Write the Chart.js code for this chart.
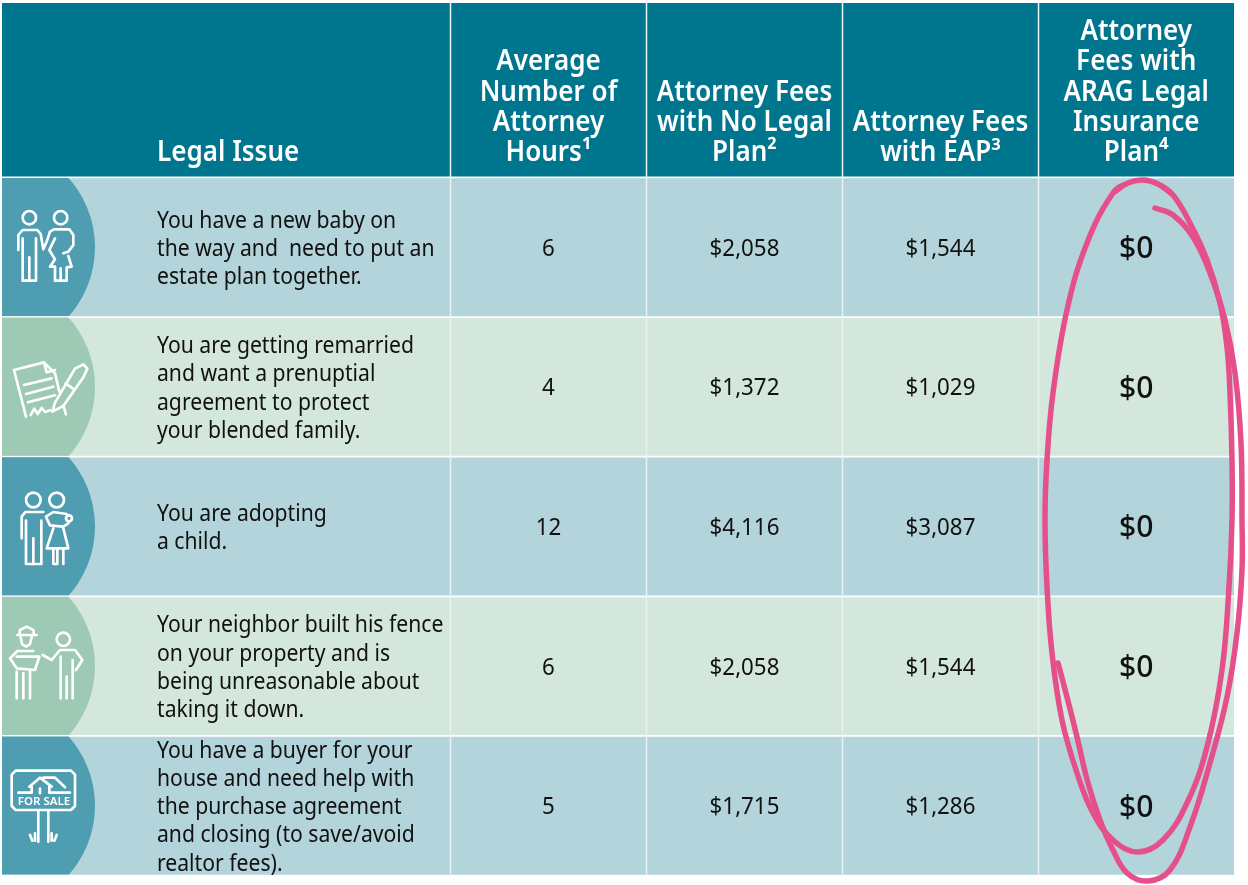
<!DOCTYPE html>
<html lang="en">
<head>
<meta charset="utf-8">
<title>Legal issue fees</title>
<script src="https://cdn.jsdelivr.net/npm/chart.js@4/dist/chart.umd.min.js"></script>
<style>
  html, body { margin: 0; background: #ffffff; }
  #wrap { width: 1248px; height: 885px; position: relative; }
</style>
</head>
<body>
<div id="wrap"><canvas id="feesChart"></canvas></div>
<script>
const headerIssue = "Legal Issue";
const headerColumns = [
  ["Average", "Number of", "Attorney", "Hours\u00B9"],
  ["Attorney Fees", "with No Legal", "Plan\u00B2"],
  ["Attorney Fees", "with EAP\u00B3"],
  ["Attorney", "Fees with", "ARAG Legal", "Insurance", "Plan\u2074"]
];
const legalIssues = [
  ["You have a new baby on", "the way and  need to put an", "estate plan together."],
  ["You are getting remarried", "and want a prenuptial", "agreement to protect", "your blended family."],
  ["You are adopting", "a child."],
  ["Your neighbor built his fence", "on your property and is", "being unreasonable about", "taking it down."],
  ["You have a buyer for your", "house and need help with", "the purchase agreement", "and closing (to save/avoid", "realtor fees)."]
];
const attorneyHours = [6, 4, 12, 6, 5];
const feesNoPlan = [2058, 1372, 4116, 2058, 1715];
const feesEap = [1544, 1029, 3087, 1544, 1286];
const feesArag = [0, 0, 0, 0, 0];

// pen strokes of the circled column
const loopX = [1113, 1128, 1143, 1158, 1173, 1190, 1207, 1220, 1227, 1230, 1232, 1232, 1229, 1222, 1207, 1187, 1163, 1138, 1113, 1093, 1077, 1062, 1052, 1047, 1045, 1047, 1053, 1067, 1087, 1113, 1128, 1143, 1158, 1173];
const loopY = [193, 183, 180, 184, 195, 223, 260, 303, 347, 393, 460, 520, 587, 670, 747, 803, 840, 852, 840, 813, 773, 720, 653, 587, 520, 460, 393, 310, 243, 193, 183, 180, 184, 195];
const tailX = [1058, 1067, 1077, 1088, 1100, 1112, 1127, 1148, 1170, 1190, 1210, 1227, 1237, 1242, 1242, 1241, 1235, 1225, 1210, 1193, 1173, 1155];
const tailY = [663, 697, 737, 783, 820, 848, 873, 881, 870, 827, 763, 697, 633, 570, 520, 443, 373, 320, 273, 237, 215, 208];

const COLORS = {
  header: "#00768e",
  rowBlue: "#b3d4db",
  rowGreen: "#d4e7dd",
  tabBlue: "#4f9db1",
  tabGreen: "#9ec9b4",
  line: "#e8f2f3",
  ink: "#e54f8a",
  text: "#111111"
};

const TABLE = { left: 2, right: 1234, headerTop: 3, headerBottom: 176.5, top: 177.5, bottom: 875.5 };
const COLUMN_EDGES = [2, 450.5, 646.5, 842.5, 1038.5, 1234];
const BODY_FONT = "23px 'Noto Sans'";
const HEADER_FONT = "600 28px 'Noto Sans'";
const HEADER_SQUEEZE = 0.93;
const BODY_SQUEEZE = 0.92;
const VALUE_SQUEEZE = 0.97;

const formatMoney = (value) => "$" + new Intl.NumberFormat("en-US").format(value);

function columnCenter(scale, index) {
  return (scale.getPixelForValue(COLUMN_EDGES[index]) + scale.getPixelForValue(COLUMN_EDGES[index + 1])) / 2;
}

function drawText(ctx, text, x, y, squeeze, align) {
  const width = ctx.measureText(text).width;
  const startX = align === "center" ? x - (width * squeeze) / 2 : x;
  ctx.save();
  ctx.translate(startX, y);
  ctx.scale(squeeze, 1);
  ctx.textAlign = "left";
  ctx.fillText(text, 0, 0);
  ctx.restore();
}

function strokePaths(ctx, originX, originY, paths, circles) {
  ctx.save();
  ctx.translate(originX, originY);
  ctx.scale(1 / 3, 1 / 3);
  ctx.strokeStyle = "#ffffff";
  ctx.lineWidth = 8;
  ctx.lineCap = "round";
  ctx.lineJoin = "round";
  paths.forEach((path) => {
    ctx.beginPath();
    for (let i = 0; i < path.length; i += 2) {
      if (i === 0) {
        ctx.moveTo(path[0], path[1]);
      } else {
        ctx.lineTo(path[i], path[i + 1]);
      }
    }
    ctx.stroke();
  });
  (circles || []).forEach((c) => {
    ctx.beginPath();
    ctx.arc(c[0], c[1], c[2], 0, Math.PI * 2);
    ctx.stroke();
  });
  ctx.restore();
}

// icons are traced in a 3x grid, the origin is the crop corner
function drawIcons(ctx) {
  strokePaths(ctx, 0, 170, [
    [55, 240, 55, 195, 68, 180, 112, 180, 122, 192, 130, 238, 140, 215, 150, 185, 162, 178, 208, 178, 220, 195, 220, 225, 205, 245, 190, 250],
    [68, 205, 68, 332, 88, 332, 88, 262],
    [88, 332, 108, 332, 108, 205],
    [165, 205, 148, 240, 165, 268, 150, 290, 165, 290, 165, 332, 182, 332, 182, 295],
    [182, 332, 200, 332, 200, 292, 215, 290, 205, 258]
  ], [[88, 143, 20], [182, 143, 20]]);

  strokePaths(ctx, 0, 170, [
    [78, 740, 42, 600, 132, 577, 165, 610, 178, 665],
    [132, 577, 140, 607, 165, 600],
    [72, 645, 155, 625],
    [78, 672, 160, 650],
    [84, 697, 165, 676],
    [92, 735, 103, 716, 113, 732, 125, 714, 135, 726, 150, 721],
    [157, 725, 165, 698, 225, 596, 250, 583, 262, 596, 250, 622, 190, 708, 157, 725],
    [197, 640, 218, 655],
    [190, 706, 198, 733]
  ]);

  strokePaths(ctx, 0, 450, [
    [65, 265, 65, 200, 76, 186, 130, 186],
    [78, 212, 78, 342, 100, 342, 100, 265],
    [100, 342, 124, 342, 124, 212],
    [138, 200, 160, 186, 200, 192],
    [140, 205, 150, 226, 190, 230, 205, 220],
    [160, 235, 140, 295, 205, 295, 190, 235],
    [160, 295, 160, 342, 172, 342, 172, 298],
    [190, 295, 190, 342]
  ], [[100, 150, 22], [170, 150, 22], [207, 205, 9]]);

  strokePaths(ctx, 0, 450, [
    [52, 555, 110, 555],
    [58, 555, 60, 540, 80, 530, 100, 540, 102, 555],
    [62, 562, 66, 582, 78, 590, 90, 582, 95, 562],
    [100, 603, 52, 603, 30, 625, 50, 655, 105, 660, 118, 620, 50, 620],
    [50, 665, 50, 745],
    [70, 670, 70, 745],
    [90, 665, 90, 745],
    [128, 615, 155, 630, 180, 600, 225, 600, 247, 630, 228, 660],
    [182, 620, 182, 745],
    [200, 680, 200, 745],
    [218, 630, 218, 745]
  ], [[190, 568, 20]]);

  strokePaths(ctx, 0, 450, [
    [47, 962, 213, 962, 225, 974, 225, 1068, 213, 1080, 47, 1080, 35, 1068, 35, 974, 47, 962],
    [88, 1010, 120, 983, 155, 1010],
    [130, 983, 165, 983, 195, 1012],
    [55, 1028, 95, 1028, 95, 1010],
    [148, 1010, 148, 1028, 210, 1028],
    [120, 1016, 120, 1030],
    [115, 1082, 115, 1175],
    [145, 1082, 145, 1175],
    [90, 1155, 97, 1172],
    [105, 1150, 105, 1172],
    [155, 1150, 155, 1172],
    [170, 1155, 163, 1172]
  ]);

  ctx.fillStyle = "#ffffff";
  ctx.font = "600 11.5px 'Noto Sans'";
  ctx.textBaseline = "middle";
  drawText(ctx, "FOR SALE", 44, 802, 1, "center");
}

const tablePlugin = {
  id: "tablePlugin",
  afterDatasetDraw(chart, args) {
    if (args.index !== 0) {
      return;
    }
    const { ctx, scales } = chart;
    const x = scales.x;
    const y = scales.y;
    const area = chart.chartArea;
    const step = y.getPixelForValue(1) - y.getPixelForValue(0);

    ctx.save();

    // header band sits above the rows
    ctx.fillStyle = COLORS.header;
    ctx.fillRect(area.left, TABLE.headerTop, area.right - area.left, TABLE.headerBottom - TABLE.headerTop);

    // half moon tabs behind the icons
    legalIssues.forEach((issue, i) => {
      const center = y.getPixelForValue(i);
      ctx.save();
      ctx.beginPath();
      ctx.rect(area.left, center - step / 2 + 0.5, 120, step - 1.5);
      ctx.clip();
      ctx.fillStyle = i % 2 === 0 ? COLORS.tabBlue : COLORS.tabGreen;
      ctx.beginPath();
      ctx.arc(-9, center, 104, 0, Math.PI * 2);
      ctx.fill();
      ctx.restore();
    });

    // column rules
    ctx.strokeStyle = COLORS.line;
    ctx.lineWidth = 1.5;
    COLUMN_EDGES.slice(1, -1).forEach((edge) => {
      const px = x.getPixelForValue(edge);
      ctx.beginPath();
      ctx.moveTo(px, TABLE.headerTop);
      ctx.lineTo(px, area.bottom);
      ctx.stroke();
    });

    drawIcons(ctx);

    // header text
    ctx.fillStyle = "#ffffff";
    ctx.font = HEADER_FONT;
    ctx.textBaseline = "middle";
    drawText(ctx, headerIssue, x.getPixelForValue(157), 153, HEADER_SQUEEZE, "left");
    headerColumns.forEach((lines, col) => {
      const cx = columnCenter(x, col + 1);
      lines.forEach((line, l) => {
        drawText(ctx, line, cx, 153 - (lines.length - 1 - l) * 30.2, HEADER_SQUEEZE, "center");
      });
    });

    // row text
    ctx.fillStyle = COLORS.text;
    legalIssues.forEach((lines, i) => {
      const center = y.getPixelForValue(i) + 2;
      ctx.font = BODY_FONT;
      lines.forEach((line, l) => {
        const offset = (l - (lines.length - 1) / 2) * 28.2;
        drawText(ctx, line, x.getPixelForValue(157), center + offset, BODY_SQUEEZE, "left");
      });
      drawText(ctx, String(attorneyHours[i]), columnCenter(x, 1), center, VALUE_SQUEEZE, "center");
      drawText(ctx, formatMoney(feesNoPlan[i]), columnCenter(x, 2), center, VALUE_SQUEEZE, "center");
      drawText(ctx, formatMoney(feesEap[i]), columnCenter(x, 3), center, VALUE_SQUEEZE, "center");
      ctx.font = "500 31px 'Noto Sans'";
      drawText(ctx, formatMoney(feesArag[i]), columnCenter(x, 4), center, VALUE_SQUEEZE, "center");
    });

    ctx.restore();
  }
};

function inkDataset(xs, ys) {
  return {
    type: "line",
    indexAxis: "x",
    xAxisID: "x",
    yAxisID: "inkY",
    data: xs.map((value, i) => ({ x: value, y: ys[i] })),
    borderColor: COLORS.ink,
    borderWidth: 5.5,
    borderCapStyle: "round",
    borderJoinStyle: "round",
    pointRadius: 0,
    tension: 0.4,
    clip: false,
    order: 0
  };
}

new Chart(document.getElementById("feesChart"), {
  type: "bar",
  plugins: [tablePlugin],
  data: {
    labels: legalIssues.map((lines) => lines.join(" ")),
    datasets: [
      {
        type: "bar",
        indexAxis: "y",
        xAxisID: "x",
        yAxisID: "y",
        data: legalIssues.map(() => [TABLE.left, TABLE.right]),
        backgroundColor: legalIssues.map((issue, i) => (i % 2 === 0 ? COLORS.rowBlue : COLORS.rowGreen)),
        grouped: false,
        barPercentage: 0.988,
        categoryPercentage: 1,
        order: 2
      },
      inkDataset(loopX, loopY),
      inkDataset(tailX, tailY)
    ]
  },
  options: {
    indexAxis: "y",
    responsive: true,
    maintainAspectRatio: false,
    animation: false,
    layout: {
      padding: { left: TABLE.left, right: 1248 - TABLE.right, top: TABLE.top, bottom: 885 - TABLE.bottom }
    },
    plugins: {
      legend: { display: false },
      tooltip: { enabled: false }
    },
    scales: {
      x: { type: "linear", min: TABLE.left, max: TABLE.right, display: false },
      y: { type: "category", offset: true, display: false },
      inkY: { type: "linear", min: TABLE.top, max: TABLE.bottom, reverse: true, offset: false, display: false }
    }
  }
});
</script>
</body>
</html>
